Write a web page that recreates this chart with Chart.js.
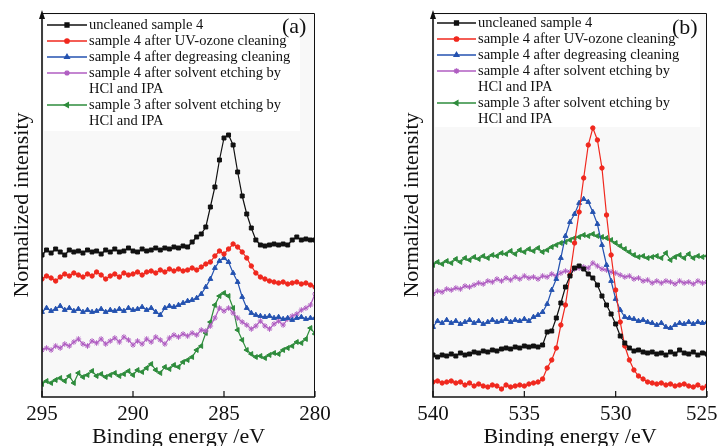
<!DOCTYPE html>
<html>
<head>
<meta charset="utf-8">
<script src="https://cdn.jsdelivr.net/npm/chart.js@4.4.0/dist/chart.umd.min.js"></script>
<style>
  body { margin: 0; background: #fff; width: 719px; height: 446px; overflow: hidden; position: relative; }
  canvas { position: absolute; top: 0; }
  #chartC1s { left: 0; }
  #chartO1s { left: 360px; }
</style>
</head>
<body>
<canvas id="chartC1s" width="360" height="446"></canvas>
<canvas id="chartO1s" width="359" height="446"></canvas>
<script>
// Binding energies (eV), read at 0.25 eV steps
const energyC1s = [295, 294.75, 294.5, 294.25, 294, 293.75, 293.5, 293.25, 293, 292.75, 292.5, 292.25, 292,
  291.75, 291.5, 291.25, 291, 290.75, 290.5, 290.25, 290, 289.75, 289.5, 289.25, 289, 288.75, 288.5, 288.25, 288,
  287.75, 287.5, 287.25, 287, 286.75, 286.5, 286.25, 286, 285.75, 285.5, 285.25, 285, 284.75, 284.5, 284.25, 284,
  283.75, 283.5, 283.25, 283, 282.75, 282.5, 282.25, 282, 281.75, 281.5, 281.25, 281, 280.75, 280.5, 280.25, 280];
const energyO1s = [540, 539.75, 539.5, 539.25, 539, 538.75, 538.5, 538.25, 538, 537.75, 537.5, 537.25, 537,
  536.75, 536.5, 536.25, 536, 535.75, 535.5, 535.25, 535, 534.75, 534.5, 534.25, 534, 533.75, 533.5, 533.25, 533,
  532.75, 532.5, 532.25, 532, 531.75, 531.5, 531.25, 531, 530.75, 530.5, 530.25, 530, 529.75, 529.5, 529.25, 529,
  528.75, 528.5, 528.25, 528, 527.75, 527.5, 527.25, 527, 526.75, 526.5, 526.25, 526, 525.75, 525.5, 525.25, 525];

const ticksC1s = [295, 290, 285, 280];
const ticksO1s = [540, 535, 530, 525];

// C 1s spectra (offset, arbitrary units)
const c1sUncleaned = [142, 147, 144, 148, 145, 142, 147, 145, 146, 144, 147, 145, 146, 143, 147, 145, 148,
  145, 146, 149, 146, 145, 148, 146, 147, 149, 147, 149, 148, 150, 149, 151, 150, 155, 160, 163, 170,
  190, 210, 237, 259, 262, 252, 225, 201, 183, 169, 157, 152, 151, 152, 153, 152, 153, 152, 157, 160,
  157, 158, 157, 157];
const c1sUvOzone = [118, 121, 119, 116, 120, 123, 121, 124, 122, 120, 123, 121, 125, 122, 118, 121, 123,
  120, 124, 122, 123, 125, 122, 125, 126, 124, 127, 125, 128, 126, 128, 126, 127, 129, 127, 130, 133,
  135, 141, 146, 143, 148, 153, 150, 145, 139, 131, 124, 120, 118, 116, 115, 114, 115, 113, 114, 115,
  113, 114, 112, 110];
const c1sDegreasing = [85, 89, 86, 88, 91, 87, 89, 86, 88, 85, 87, 85, 86, 88, 85, 87, 86,
  88, 86, 89, 87, 88, 90, 87, 89, 85, 82, 89, 91, 90, 92, 94, 96, 97, 99, 103, 110,
  118, 129, 136, 139, 135, 124, 115, 100, 89, 84, 82, 81, 80, 81, 79, 80, 78, 79, 77, 79,
  80, 78, 79, 79];
const c1sEtched4 = [47, 49, 47, 51, 49, 53, 51, 55, 58, 53, 51, 56, 54, 58, 53, 56, 59,
  55, 60, 57, 52, 56, 53, 58, 55, 60, 57, 53, 59, 62, 60, 63, 61, 64, 62, 67, 66,
  71, 79, 89, 86, 89, 84, 79, 75, 72, 68, 71, 76, 71, 68, 73, 76, 72, 78, 81, 83,
  87, 89, 92, 103];
const c1sEtched3 = [13, 16, 14, 17, 19, 16, 21, 14, 24, 20, 22, 26, 21, 23, 20, 22, 24,
  21, 23, 26, 22, 27, 25, 29, 33, 27, 24, 30, 28, 32, 30, 35, 37, 40, 47, 51, 64,
  75, 92, 101, 104, 101, 89, 67, 57, 47, 43, 40, 41, 39, 42, 44, 43, 47, 49, 51, 55,
  54, 58, 69, 63];

// O 1s spectra (offset, arbitrary units)
const o1sUncleaned = [42, 40, 42, 41, 43, 41, 44, 42, 43, 45, 44, 46, 45, 47, 46, 48, 49,
  48, 50, 49, 51, 50, 51, 50, 52, 65, 66, 79, 94, 110, 121, 129, 131, 128, 123, 119, 112,
  101, 92, 83, 73, 61, 54, 49, 46, 47, 45, 44, 45, 43, 44, 42, 45, 43, 47, 44, 43,
  45, 42, 44, 43];
const o1sUvOzone = [15, 16, 14, 15, 16, 14, 15, 12, 14, 11, 13, 11, 10, 12, 11, 8, 12,
  10, 11, 12, 11, 13, 14, 15, 18, 29, 37, 49, 72, 92, 122, 154, 185, 219, 252, 269, 257,
  229, 182, 142, 107, 75, 51, 37, 27, 21, 18, 15, 14, 13, 14, 12, 13, 11, 12, 13, 11,
  10, 12, 9, 11];
const o1sDegreasing = [70, 76, 74, 77, 74, 76, 73, 75, 77, 74, 76, 73, 75, 77, 75, 76, 78,
  75, 77, 76, 78, 76, 80, 82, 85, 93, 107, 118, 139, 161, 175, 183, 194, 198, 195, 185, 173,
  152, 132, 116, 98, 87, 80, 79, 78, 76, 77, 75, 74, 72, 74, 70, 69, 72, 74, 73, 75,
  73, 75, 74, 75];
const o1sEtched4 = [103, 106, 105, 108, 107, 109, 108, 111, 110, 112, 114, 113, 116, 115, 118, 116, 119,
  117, 120, 118, 121, 119, 120, 118, 121, 120, 123, 121, 124, 126, 125, 128, 129, 130, 129, 134, 131,
  128, 127, 125, 124, 122, 120, 121, 118, 119, 116, 117, 114, 116, 114, 116, 115, 113, 116, 114, 115,
  113, 116, 114, 115];
const o1sEtched3 = [132, 135, 133, 136, 134, 138, 135, 139, 137, 140, 138, 141, 139, 142, 141, 144, 143,
  146, 143, 147, 145, 148, 146, 149, 145, 147, 150, 152, 154, 155, 157, 159, 160, 162, 161, 163, 161,
  160, 159, 157, 154, 151, 148, 145, 142, 140, 141, 139, 140, 141, 139, 144, 137, 140, 142, 139, 143,
  139, 141, 140, 141];

const legendLines = [
  ["uncleaned sample 4"],
  ["sample 4 after UV-ozone cleaning"],
  ["sample 4 after degreasing cleaning"],
  ["sample 4 after solvent etching by", "HCl and IPA"],
  ["sample 3 after solvent etching by", "HCl and IPA"]
];

const seriesColors = ["#111111", "#f0281e", "#2452b0", "#b05ec2", "#2e8c3c"];
const pointStyles = ["rect", "circle", "triangle", "star", "triangle"];
const pointRadii = [2.8, 2.2, 2.8, 2.8, 2.8];
const pointRotations = [0, 0, 0, 0, -90];

const SERIF = "'Liberation Serif', 'DejaVu Serif', serif";

// frame, inward ticks, axis arrow, legend and panel tag
const panelDecor = {
  id: "panelDecor",
  beforeDraw: function (chart, args, opts) {
    const ctx = chart.ctx;
    const a = chart.chartArea;
    ctx.save();
    ctx.fillStyle = "#f8f8f8";
    ctx.fillRect(a.left, a.top, a.right - a.left, a.bottom - a.top);
    ctx.fillStyle = "#ffffff";
    ctx.fillRect(opts.box[0], opts.box[1], opts.box[2], opts.box[3]);
    ctx.restore();
  },
  afterDraw: function (chart, args, opts) {
    const ctx = chart.ctx;
    const a = chart.chartArea;
    const xs = chart.scales.x;
    ctx.save();
    // top and right frame
    ctx.strokeStyle = "#111";
    ctx.lineWidth = 1;
    ctx.beginPath();
    ctx.moveTo(a.left, a.top + 0.5);
    ctx.lineTo(a.right - 0.5, a.top + 0.5);
    ctx.lineTo(a.right - 0.5, a.bottom);
    ctx.stroke();
    // axes
    ctx.lineWidth = 1.6;
    ctx.beginPath();
    ctx.moveTo(a.left, a.top);
    ctx.lineTo(a.left, a.bottom);
    ctx.lineTo(a.right, a.bottom);
    ctx.stroke();
    // inward ticks
    ctx.lineWidth = 1.2;
    xs.ticks.forEach((t) => {
      const px = xs.getPixelForValue(t.value);
      ctx.beginPath();
      ctx.moveTo(px, a.bottom);
      ctx.lineTo(px, a.bottom - 6);
      ctx.stroke();
    });
    // arrow on intensity axis
    ctx.fillStyle = "#111";
    ctx.beginPath();
    ctx.moveTo(a.left, a.top - 3);
    ctx.lineTo(a.left - 3, a.top + 6);
    ctx.lineTo(a.left + 3, a.top + 6);
    ctx.closePath();
    ctx.fill();

    // legend
    ctx.font = "14.5px " + SERIF;
    ctx.textBaseline = "middle";
    ctx.textAlign = "left";
    let row = 0;
    chart.data.datasets.forEach((ds, i) => {
      const y = opts.legendTop + row * opts.legendStep;
      ctx.strokeStyle = ds.borderColor;
      ctx.lineWidth = 1.3;
      ctx.beginPath();
      ctx.moveTo(opts.legendX0, y);
      ctx.lineTo(opts.legendX1, y);
      ctx.stroke();
      ctx.fillStyle = ds.borderColor;
      Chart.helpers.drawPoint(ctx, {
        pointStyle: ds.pointStyle,
        radius: ds.pointRadius,
        rotation: ds.pointRotation,
        borderWidth: 1
      }, (opts.legendX0 + opts.legendX1) / 2, y);
      ctx.fillStyle = "#111";
      legendLines[i].forEach((line) => {
        ctx.fillText(line, opts.legendX1 + 2, opts.legendTop + row * opts.legendStep);
        row++;
      });
    });

    // panel tag
    ctx.font = "22px " + SERIF;
    ctx.fillStyle = "#111";
    ctx.fillText(opts.tag, opts.tagX, opts.tagY);
    ctx.restore();
  }
};

function makeDatasets(energies, seriesList) {
  return seriesList.map((values, i) => ({
    label: legendLines[i].join(" "),
    data: energies.map((e, k) => ({ x: e, y: values[k] })),
    borderColor: seriesColors[i],
    backgroundColor: seriesColors[i],
    borderWidth: 1.2,
    pointStyle: pointStyles[i],
    pointRadius: pointRadii[i],
    pointRotation: pointRotations[i],
    pointBorderWidth: 1,
    tension: 0
  }));
}

function makeChart(canvasId, energies, seriesList, tickValues, cfg) {
  const lo = Math.min.apply(null, tickValues);
  const hi = Math.max.apply(null, tickValues);
  return new Chart(document.getElementById(canvasId), {
    type: "line",
    data: { datasets: makeDatasets(energies, seriesList) },
    options: {
      responsive: false,
      animation: false,
      events: [],
      layout: { padding: { top: 13, right: cfg.padRight, left: 0, bottom: 0 } },
      plugins: {
        legend: { display: false },
        tooltip: { enabled: false },
        panelDecor: cfg.decor
      },
      scales: {
        x: {
          type: "linear",
          reverse: true,
          min: lo,
          max: hi,
          afterBuildTicks: (scale) => {
            scale.ticks = tickValues.map((v) => ({ value: v }));
          },
          afterFit: (scale) => {
            scale.height = 49;
            scale.paddingLeft = 0;
            scale.paddingRight = 0;
          },
          grid: { display: false, drawTicks: false },
          border: { display: false },
          ticks: {
            color: "#111",
            padding: 5,
            maxRotation: 0,
            font: { family: SERIF, size: 21 },
            callback: (v) => (v === cfg.shiftTick ? v + "\u2002" : String(v))
          },
          title: {
            display: true,
            text: "Binding energy /eV",
            color: "#111",
            font: { family: SERIF, size: 22, lineHeight: 1 },
            padding: { top: 0, bottom: -2 }
          }
        },
        y: {
          min: 0,
          max: 384,
          afterFit: (scale) => {
            scale.width = cfg.yWidth;
          },
          grid: { display: false, drawTicks: false },
          border: { display: false },
          ticks: { display: false },
          title: {
            display: true,
            text: "Normalized intensity",
            color: "#111",
            font: { family: SERIF, size: 22, lineHeight: 1.2 },
            padding: { top: cfg.yTitlePad, bottom: 0 }
          }
        }
      }
    },
    plugins: [panelDecor]
  });
}

makeChart("chartC1s", energyC1s,
  [c1sUncleaned, c1sUvOzone, c1sDegreasing, c1sEtched4, c1sEtched3], ticksC1s, {
    padRight: 45,
    yWidth: 42,
    yTitlePad: 9,
    shiftTick: null,
    decor: {
      box: [44, 15, 256, 116],
      legendTop: 25, legendStep: 16, legendX0: 47, legendX1: 87,
      tag: "(a)", tagX: 282, tagY: 27
    }
  });

makeChart("chartO1s", energyO1s,
  [o1sUncleaned, o1sUvOzone, o1sDegreasing, o1sEtched4, o1sEtched3], ticksO1s, {
    padRight: 12,
    yWidth: 73,
    yTitlePad: 39,
    shiftTick: 525,
    decor: {
      box: [75, 15, 265, 112],
      legendTop: 23, legendStep: 16, legendX0: 77, legendX1: 116,
      tag: "(b)", tagX: 312, tagY: 28
    }
  });
</script>
</body>
</html>
